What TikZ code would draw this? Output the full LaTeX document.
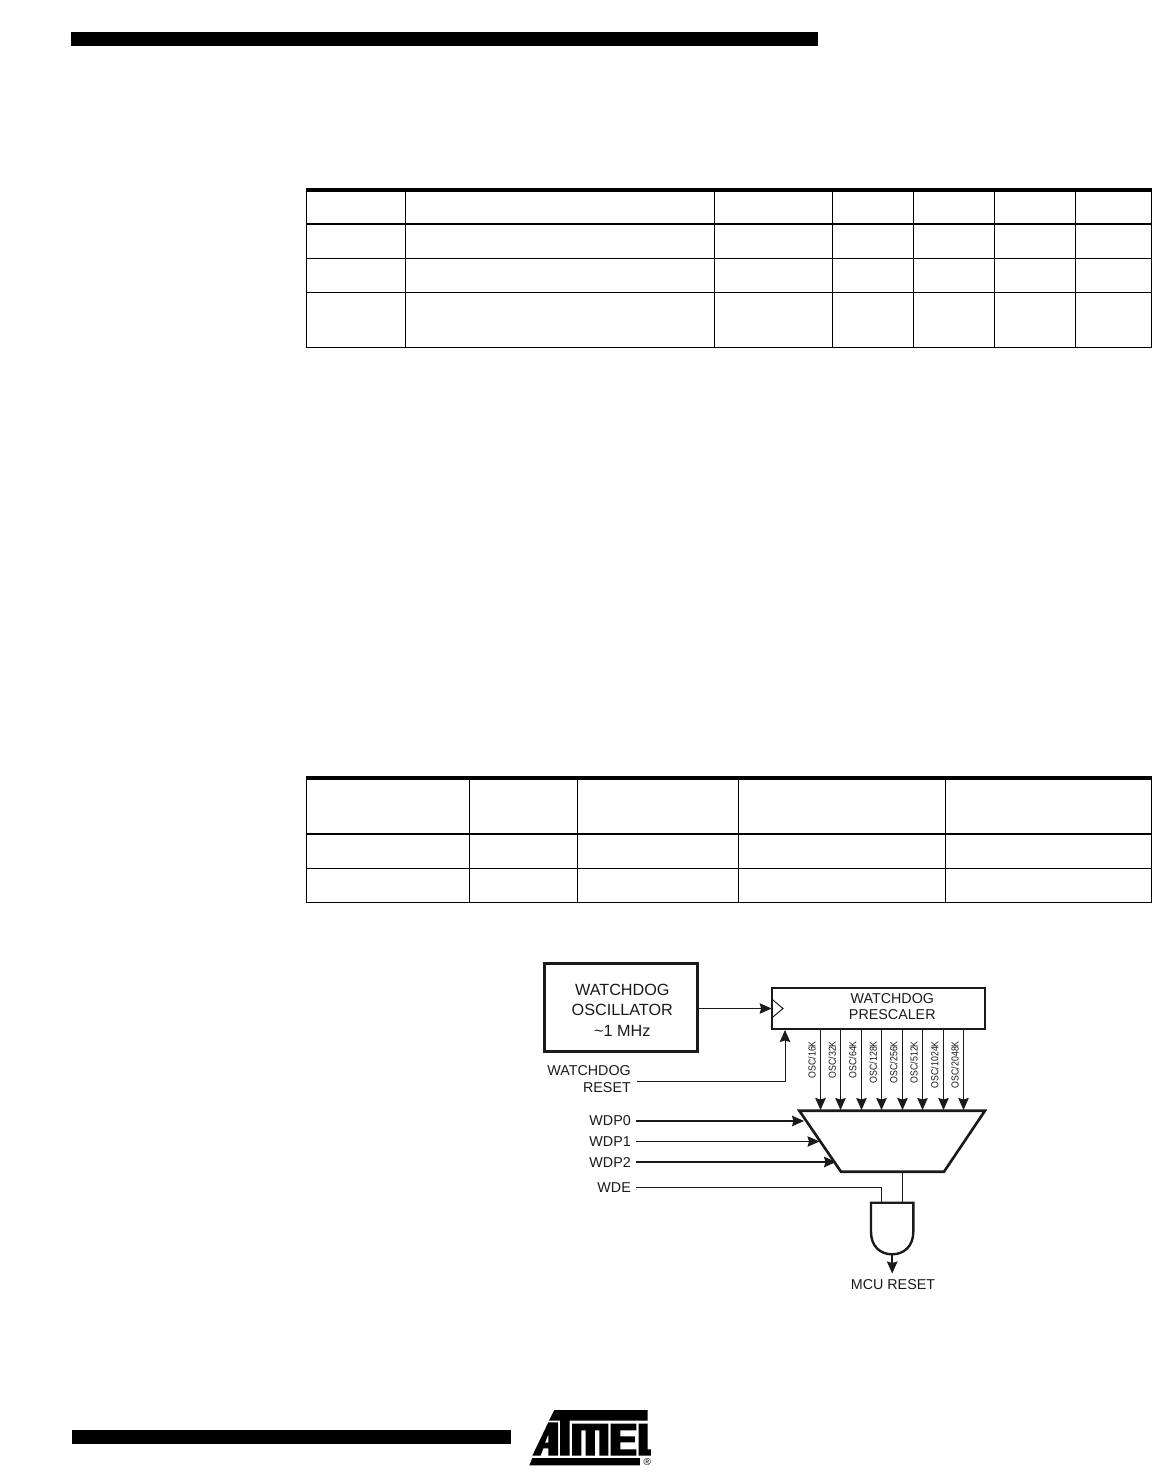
\documentclass[tikz,border=0pt]{standalone}
\usepackage{fontspec}
\setmainfont{Liberation Sans}
\newfontfamily\condfont[FakeStretch=0.86]{Liberation Sans}
\usetikzlibrary{arrows.meta}
\definecolor{ink}{HTML}{1A1A1A}
\tikzset{
  band/.style={fill=black,draw=none},
  rulethin/.style={line width=1pt,black},
  rulethick/.style={line width=2pt,black},
  rulehead/.style={line width=3.7pt,black},
  wire/.style={line width=1pt,ink},
  wirebold/.style={line width=1.7pt,ink},
  arrowwire/.style={wire,-{Stealth[length=12pt,width=10.5pt,inset=1.5pt]}},
  arrowbold/.style={wirebold,-{Stealth[length=12pt,width=10.5pt,inset=1.5pt]}},
  box/.style={draw=ink,fill=white,inner sep=0pt,outer sep=0pt},
  sig/.style={font=\fontsize{14.3}{17}\selectfont,text=ink,inner sep=0pt,anchor=east,align=right},
  oscl/.style={font=\condfont\fontsize{10.2}{12}\selectfont,text=ink,inner sep=0pt,rotate=90,anchor=east},
  logo/.style={fill=black,draw=none}
}
\begin{document}
\begin{tikzpicture}[x=1pt,y=-1pt]
\useasboundingbox (0,0) rectangle (1152,1473);
\fill[white] (0,0) rectangle (1152,1473);
% page bands
\fill[band] (71,32) rectangle (818,46);
\fill[band] (72,1430) rectangle (511,1444);
% table 1
\foreach \x in {306.5,405.5,714.5,832.5,913.5,994.5,1075.5,1151.5}
  \draw[rulethin] (\x,190) -- (\x,347.5);
\draw[rulehead] (306,189.8) -- (1152,189.8);
\draw[rulethick] (306,223.7) -- (1152,223.7);
\draw[rulethin] (306,258.3) -- (1152,258.3);
\draw[rulethin] (306,292.3) -- (1152,292.3);
\draw[rulethin] (306,347.3) -- (1152,347.3);
% table 2
\foreach \x in {306.5,469.5,577.5,738.5,945.5,1151.5}
  \draw[rulethin] (\x,778) -- (\x,902.5);
\draw[rulehead] (306,777.8) -- (1152,777.8);
\draw[rulethick] (306,833.7) -- (1152,833.7);
\draw[rulethin] (306,868.3) -- (1152,868.3);
\draw[rulethin] (306,902.3) -- (1152,902.3);
% blocks
\node[box,line width=2.6pt,minimum width=153pt,minimum height=88pt] (osc) at (621,1007.5) {};
\node[font=\fontsize{16.2}{20.5}\selectfont,text=ink,align=center,inner sep=0pt] (osctext) at (622.3,1010.3)
      {WATCHDOG\\OSCILLATOR\\\textasciitilde1 MHz};
\node[box,line width=2.2pt,minimum width=213.5pt,minimum height=41.5pt] (pre) at (878.4,1008.5) {};
\node[font=\fontsize{14.3}{16}\selectfont,text=ink,align=center,inner sep=0pt] (pretext) at (892.3,1006.3)
      {WATCHDOG\\PRESCALER};
\coordinate (clka) at (771.7,999);
\coordinate (clkb) at (783,1008.5);
\coordinate (clkc) at (771.7,1018);
\draw[wire] (clka) -- (clkb) -- (clkc);
\draw[arrowwire] (osc.east |- pre.west) -- (pre.west);
% labels
\node[sig] (reset) at (631,1079.5) {WATCHDOG\\RESET};
\node[sig] (wdp0) at (631,1121) {WDP0};
\node[sig] (wdp1) at (631,1141.5) {WDP1};
\node[sig] (wdp2) at (631,1162) {WDP2};
\node[sig] (wde) at (631,1187.5) {WDE};
\node[font=\fontsize{14.3}{16}\selectfont,text=ink,inner sep=0pt] (mcu) at (893,1285) {MCU RESET};
% reset connector
\coordinate (rs) at (636.5,1081.5);
\coordinate (rt) at (785,1030);
\draw[arrowwire] (rs) -| (rt);
% prescaler outputs
\foreach \n/\x/\lx/\t in {a/820.5/812/OSC\slash 16K,b/840.5/832.3/OSC\slash 32K,c/861.5/852.7/OSC\slash 64K,d/881.5/873.3/OSC\slash 128K,e/902.5/893.7/OSC\slash 256K,f/922.5/914/OSC\slash 512K,g/943.5/934.7/OSC\slash 1024K,h/963.5/955/OSC\slash 2048K}{
  \coordinate (pa\n) at (\x,1029.3);
  \coordinate (ma\n) at (\x,1110);
  \draw[arrowwire] (pa\n) -- (ma\n);
  \node[oscl] (lab\n) at (\lx,1041) {\t};
}
% mux
\coordinate (mtl) at (799.3,1110.7);
\coordinate (mtr) at (985,1110.7);
\coordinate (mbr) at (944,1171.7);
\coordinate (mbl) at (841,1171.7);
\draw[ink,line width=2.6pt,line join=miter] (mtl) -- (mtr) -- (mbr) -- (mbl) -- cycle;
\coordinate (t0) at (804,1121);
\coordinate (t1) at (819.5,1141.5);
\coordinate (t2) at (836,1162);
\draw[arrowbold] ([xshift=5pt]wdp0.east) -- (t0);
\draw[arrowwire] ([xshift=5pt]wdp1.east) -- (t1);
\draw[arrowbold] ([xshift=5pt]wdp2.east) -- (t2);
% gate
\coordinate (gl) at (871,1202.7);
\coordinate (gr) at (913.3,1202.7);
\coordinate (gi1) at (881.5,1202.7);
\coordinate (gi2) at (902.5,1202.7);
\coordinate (gout) at (892.2,1254.3);
\coordinate (mout) at (902.5,1171.7);
\coordinate (mcuin) at (892.2,1273.5);
\draw[ink,line width=2.4pt] (gl) -- (gr) -- (913.3,1232) .. controls (913.3,1246) and (904,1254.3) .. (gout)
   .. controls (880,1254.3) and (871,1246) .. (871,1232) -- cycle;
\draw[wire] (mout) -- (gi2);
\draw[wire] ([xshift=5pt]wde.east) -| (gi1);
\draw[arrowbold] (gout) -- (mcuin);
% logo
\begin{scope}[shift={(525,1405)},x=0.3333pt,y=-0.3333pt]
\fill[logo] (88,15) -- (368,15) -- (368,47) -- (134,47) -- (134,152) -- (105,152) -- (105,47) -- (72,47) -- cycle;
\fill[logo,even odd rule] (22,152) -- (70,52) -- (99,52) -- (99,152) -- (70,152) -- (70,130) -- (55,130) -- (47,152) -- cycle
   (70,113) -- (70,88) -- (60,113) -- cycle;
\fill[logo] (141,56) -- (250,56) -- (250,152) -- (223,152) -- (223,76) -- (210,76) -- (210,152) -- (182,152) -- (182,76) -- (169,76) -- (169,152) -- (141,152) -- cycle;
\fill[logo] (257,56) -- (334,56) -- (334,76) -- (286,76) -- (286,94) -- (330,94) -- (330,112) -- (286,112) -- (286,133) -- (334,133) -- (334,152) -- (257,152) -- cycle;
\fill[logo] (341,56) -- (368,56) -- (368,133) -- (378,133) -- (378,152) -- (341,152) -- cycle;
\fill[logo] (22,159) -- (345,159) -- (345,181) -- (13,181) -- cycle;
\node[font=\fontsize{10}{11}\selectfont,inner sep=0pt] (reg) at (367,172) {®};
\end{scope}
\end{tikzpicture}
\end{document}
